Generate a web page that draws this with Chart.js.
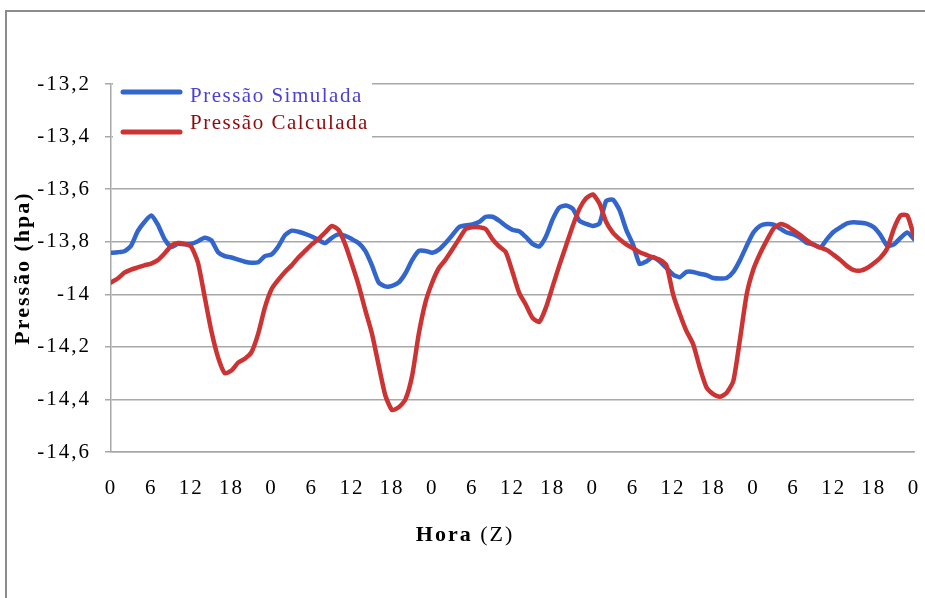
<!DOCTYPE html>
<html>
<head>
<meta charset="utf-8">
<script src="https://cdn.jsdelivr.net/npm/chart.js@4.4.1/dist/chart.umd.min.js"></script>
<style>
  html, body { margin: 0; padding: 0; background: #fff; }
  #wrap { width: 925px; height: 598px; }
</style>
</head>
<body>
<div id="wrap"><canvas id="pressaoChart" width="925" height="598"></canvas></div>
<script>
// ===== Hourly pressure values (hPa), 5 days =====
const simulada = [
  -13.842, -13.84, -13.836, -13.815, -13.76, -13.725, -13.70, -13.735, -13.79, -13.82,
  -13.808, -13.81, -13.808, -13.798, -13.785, -13.795, -13.84, -13.855, -13.86, -13.868,
  -13.876, -13.88, -13.878, -13.855, -13.848, -13.818, -13.775, -13.758, -13.762, -13.77,
  -13.78, -13.793, -13.805, -13.785, -13.772, -13.778, -13.79, -13.805, -13.835, -13.89,
  -13.955, -13.97, -13.968, -13.955, -13.92, -13.87, -13.835, -13.835, -13.842, -13.83,
  -13.805, -13.775, -13.745, -13.738, -13.734, -13.725, -13.705, -13.705, -13.72, -13.74,
  -13.755, -13.76, -13.782, -13.808, -13.818, -13.78, -13.715, -13.67, -13.662, -13.675,
  -13.72, -13.732, -13.74, -13.73, -13.645, -13.64, -13.68, -13.755, -13.81, -13.885,
  -13.875, -13.858, -13.875, -13.90, -13.925, -13.935, -13.915, -13.915, -13.922, -13.927,
  -13.938, -13.94, -13.938, -13.915, -13.87, -13.815, -13.765, -13.74, -13.733, -13.735,
  -13.75, -13.765, -13.772, -13.785, -13.805, -13.81, -13.822, -13.79, -13.762, -13.745,
  -13.73, -13.726, -13.728, -13.732, -13.745, -13.775, -13.815, -13.81, -13.785, -13.765, -13.79
];
const calculada = [
  -13.955, -13.94, -13.918, -13.906, -13.898, -13.89, -13.883, -13.87, -13.845, -13.815,
  -13.805, -13.808, -13.82, -13.88, -14.01, -14.14, -14.24, -14.30, -14.29, -14.26,
  -14.245, -14.22, -14.15, -14.05, -13.98, -13.945, -13.915, -13.89, -13.86, -13.835,
  -13.81, -13.79, -13.765, -13.74, -13.755, -13.81, -13.885, -13.965, -14.06, -14.15,
  -14.27, -14.385, -14.44, -14.43, -14.40, -14.31, -14.15, -14.03, -13.955, -13.90,
  -13.868, -13.83, -13.79, -13.752, -13.745, -13.745, -13.752, -13.79, -13.818, -13.84,
  -13.915, -13.995, -14.04, -14.09, -14.105, -14.05, -13.97, -13.89, -13.815, -13.74,
  -13.675, -13.635, -13.62, -13.655, -13.725, -13.765, -13.79, -13.81, -13.825, -13.84,
  -13.85, -13.86, -13.868, -13.89, -14.00, -14.075, -14.14, -14.19, -14.28, -14.355,
  -14.38, -14.39, -14.375, -14.33, -14.17, -14.00, -13.905, -13.845, -13.795, -13.75,
  -13.733, -13.74, -13.757, -13.775, -13.795, -13.812, -13.822, -13.832, -13.85, -13.87,
  -13.893, -13.908, -13.91, -13.90, -13.882, -13.86, -13.825, -13.75, -13.70, -13.70, -13.78
];

// ===== Axis labels =====
const xTickValues = [0, 6, 12, 18, 24, 30, 36, 42, 48, 54, 60, 66, 72, 78, 84, 90, 96, 102, 108, 114, 120];
const xTickLabels = ['0','6','12','18','0','6','12','18','0','6','12','18','0','6','12','18','0','6','12','18','0'];
const yTickLabels = ['-14,6','-14,4','-14,2','-14','-13,8','-13,6','-13,4','-13,2'];
const seriesNames = ['Pressão Simulada', 'Pressão Calculada'];
const seriesColors = ['#3366cc', '#cc3333'];
const legendTextColors = ['#4a3fd6', '#8f0a0a'];

const SERIF = '"Liberation Serif", "Times New Roman", serif';
const GRID = '#a8a8a8';

// ===== Plugins: background, letter spacing, frame, legend, x title =====
const pageLook = {
  id: 'pageLook',
  beforeUpdate(chart) { chart.ctx.letterSpacing = '2px'; },
  beforeDraw(chart) {
    const ctx = chart.ctx;
    ctx.letterSpacing = '2px';
    ctx.save();
    ctx.fillStyle = '#fff';
    ctx.fillRect(0, 0, chart.width, chart.height);
    ctx.restore();
  },
  afterDraw(chart) {
    const ctx = chart.ctx;
    ctx.save();
    // outer frame (top and left visible)
    ctx.strokeStyle = '#8c8c8c';
    ctx.lineWidth = 2;
    ctx.beginPath();
    ctx.moveTo(6, 598);
    ctx.lineTo(6, 11);
    ctx.lineTo(925, 11);
    ctx.stroke();

    // legend
    ctx.fillStyle = '#fff';
    ctx.fillRect(113, 77, 259, 63);
    const rows = [{ lineY: 92, textY: 96 }, { lineY: 132, textY: 123 }];
    ctx.lineCap = 'round';
    ctx.letterSpacing = '1.5px';
    ctx.font = '21px ' + SERIF;
    ctx.textBaseline = 'middle';
    ctx.textAlign = 'left';
    rows.forEach((r, i) => {
      ctx.strokeStyle = seriesColors[i];
      ctx.lineWidth = 5;
      ctx.beginPath();
      ctx.moveTo(123, r.lineY);
      ctx.lineTo(180, r.lineY);
      ctx.stroke();
      ctx.fillStyle = legendTextColors[i];
      ctx.fillText(seriesNames[i], 190, r.textY);
    });

    // x axis title: "Hora" bold, "(Z)" regular
    ctx.letterSpacing = '2px';
    ctx.fillStyle = '#000';
    const boldFont = 'bold 22px ' + SERIF;
    const normFont = '22px ' + SERIF;
    ctx.font = boldFont;
    const w1 = ctx.measureText('Hora ').width;
    ctx.font = normFont;
    const w2 = ctx.measureText('(Z)').width;
    let x0 = 465 - (w1 + w2) / 2;
    ctx.font = boldFont;
    ctx.fillText('Hora ', x0, 535);
    ctx.font = normFont;
    ctx.fillText('(Z)', x0 + w1, 535);
    ctx.restore();
  }
};

new Chart(document.getElementById('pressaoChart'), {
  type: 'line',
  data: {
    datasets: [
      {
        label: seriesNames[1],
        data: calculada.map((v, i) => ({ x: i, y: v })),
        borderColor: seriesColors[1],
        borderWidth: 4.5,
        pointRadius: 0,
        tension: 0.2,
        fill: false,
        borderCapStyle: 'round',
        borderJoinStyle: 'round',
        order: 0
      },
      {
        label: seriesNames[0],
        data: simulada.map((v, i) => ({ x: i, y: v })),
        borderColor: seriesColors[0],
        borderWidth: 4.5,
        pointRadius: 0,
        tension: 0.2,
        fill: false,
        borderCapStyle: 'round',
        borderJoinStyle: 'round',
        order: 1
      }
    ]
  },
  options: {
    responsive: false,
    animation: false,
    layout: { padding: { top: 84, right: 11, left: 0, bottom: 0 } },
    plugins: { legend: { display: false }, tooltip: { enabled: false } },
    scales: {
      x: {
        type: 'linear',
        min: 0,
        max: 120,
        afterBuildTicks(scale) { scale.ticks = xTickValues.map(v => ({ value: v })); },
        afterFit(scale) {
          scale.height = 598 - 452;
          scale.paddingLeft = 0;
          scale.paddingRight = 8;
        },
        ticks: {
          autoSkip: false,
          maxRotation: 0,
          color: '#000',
          padding: 24,
          font: { family: SERIF, size: 21 },
          callback: (v, i) => xTickLabels[i]
        },
        grid: { display: false, drawTicks: false },
        border: { display: true, color: GRID, width: 1.5 }
      },
      y: {
        min: -14.6,
        max: -13.2,
        afterFit(scale) { scale.width = 111; },
        ticks: {
          stepSize: 0.2,
          color: '#000',
          padding: 14,
          font: { family: SERIF, size: 21 },
          callback: (v, i) => yTickLabels[i]
        },
        grid: { color: GRID, lineWidth: 1.5, tickLength: 6, drawTicks: true },
        border: { display: true, color: GRID, width: 1.5 },
        title: {
          display: true,
          text: 'Pressão (hpa)',
          color: '#000',
          font: { family: SERIF, size: 22, weight: 'bold' },
          padding: { top: 10, bottom: 0 }
        }
      }
    }
  },
  plugins: [pageLook]
});
</script>
</body>
</html>
